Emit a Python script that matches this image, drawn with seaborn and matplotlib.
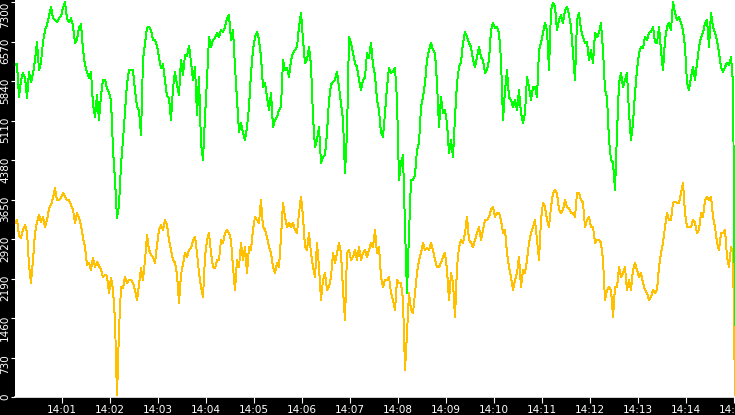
import numpy as np
import pandas as pd
import matplotlib
matplotlib.use("Agg")
import matplotlib.pyplot as plt
import matplotlib.dates as mdates
import matplotlib.transforms as mtransforms
import seaborn as sns

# ---- data (sampled every 2.5 s from 14:00:01.5) ----
start_time = "2024-01-01 14:00:01.5"
sample_step = "2500ms"

green_values = [
    6140, 6150, 5540, 5860, 5990, 5900, 5530, 6010, 5820, 5970,
    6230, 6560, 6040, 6190, 6560, 6780, 6880, 7040, 7210, 7000,
    6970, 6930, 7000, 7040, 7190, 7300, 7000, 6930, 7000, 6860,
    6540, 6600, 6820, 6890, 6410, 6140, 6010, 5900, 6010, 5400,
    5180, 5580, 5120, 5580, 5860, 5860, 5710, 5620, 5490, 4570,
    4010, 3310, 3550, 4290, 4750, 5270, 5790, 6040, 6040, 6040,
    5670, 5360, 5300, 4840, 6230, 6540, 6820, 6840, 6780, 6600,
    6600, 6490, 6270, 6080, 6150, 5860, 5560, 5530, 5120, 5710,
    6010, 5770, 5580, 6230, 5950, 6320, 6300, 6490, 6190, 5860,
    # 14:03:46 -
    6100, 5210, 5910, 4690, 4380, 5180, 5860, 6650, 6470, 6600,
    6630, 6730, 6650, 6780, 6750, 6840, 7000, 7060, 6600, 6780,
    6100, 5490, 4900, 5060, 4880, 4750, 4990, 5360, 5990, 6410,
    6650, 6750, 6600, 6280, 5730, 5800, 5540, 5300, 5620, 4990,
    5120, 5180, 5300, 5360, 6230, 6040, 6080, 5910, 6230, 6360,
    6410, 6470, 6840, 7100, 6600, 6170, 6230, 6470, 6140, 5180,
    4620, 4750, 4990, 4330, 4440, 4470, 4880, 5490, 5770, 5820,
    5860, 6010, 5730, 5430, 5120, 4140, 4880, 6650, 6540, 6360,
    6170, 6100, 5860, 5670, 5860, 5910, 6360, 6270, 6540, 6140,
    # 14:07:31 -
    5950, 5490, 5300, 4880, 4810, 5250, 5730, 6080, 5990, 6010,
    6080, 5490, 4010, 4330, 4470, 3140, 1920, 3030, 4010, 4010,
    4100, 4570, 4690, 5360, 5540, 5800, 6230, 6410, 6540, 6410,
    6360, 5800, 4990, 5540, 5250, 5300, 5060, 4510, 4750, 4440,
    5180, 5800, 6100, 6190, 6540, 6750, 6650, 6540, 6470, 6230,
    6100, 6280, 6470, 6280, 6230, 5990, 6040, 6230, 6780, 6910,
    6820, 6840, 6730, 6230, 5120, 5670, 6040, 5540, 5490, 5360,
    5490, 5300, 5670, 5250, 5060, 5250, 5910, 5730, 5490, 5730,
    5730, 5540, 6410, 6540, 6730, 6910, 6780, 6040, 7150, 7280,
    # 14:11:16 -
    7210, 6780, 6970, 7060, 6910, 7150, 7210, 7060, 6840, 6360,
    5860, 6970, 7100, 6780, 6650, 6540, 6560, 6230, 6410, 6170,
    6730, 6650, 6730, 6910, 6410, 5670, 5540, 4750, 4380, 4330,
    3830, 4880, 5800, 5990, 5730, 5860, 5990, 5250, 4750, 5060,
    5620, 6040, 6360, 6470, 6450, 6650, 6600, 6730, 6750, 6840,
    6560, 6540, 6840, 6410, 6040, 6600, 6840, 6910, 6780, 7300,
    7100, 6970, 7020, 6910, 6780, 6470, 5800, 5670, 5910, 6100,
    5860, 6170, 6470, 6650, 6730, 6910, 6970, 6470, 7100, 6840,
    6730, 6600, 6360, 6100, 6010, 6100, 6170, 6140, 6280, 5800,
    1330,
]

orange_values = [
    3220, 3270, 2990, 2940, 3090, 3180, 3050, 2440, 2110, 2530,
    3030, 3230, 3360, 3230, 3330, 3140, 3270, 3480, 3550, 3680,
    3860, 3640, 3640, 3680, 3770, 3700, 3640, 3640, 3550, 3460,
    3220, 3400, 3310, 3180, 2940, 2770, 2440, 2480, 2350, 2570,
    2400, 2500, 2420, 2350, 2220, 2260, 2240, 1920, 2200, 1980,
    1420, 0, 1240, 2030, 2010, 2220, 2110, 2160, 2160, 2110,
    1980, 1790, 2070, 2380, 2160, 2530, 2990, 2720, 2630, 2590,
    2480, 2810, 3090, 3180, 3090, 3270, 3180, 2900, 2720, 2530,
    2480, 2260, 1740, 2260, 2460, 2660, 2590, 2720, 2750, 2900,
    # 14:03:46 -
    2960, 2660, 2290, 2030, 1850, 2590, 2900, 3030, 2660, 2400,
    2380, 2530, 2530, 2900, 2850, 3030, 3090, 3030, 2900, 2400,
    1980, 2530, 2400, 2850, 2530, 2770, 2290, 2770, 2720, 3090,
    3330, 3270, 3220, 3640, 3140, 3090, 2960, 2770, 2660, 2400,
    2290, 2480, 2400, 2960, 3590, 3330, 3140, 3220, 3140, 3220,
    3090, 3030, 3400, 3700, 3330, 2770, 2720, 3030, 2660, 2400,
    2220, 2850, 2400, 1790, 2160, 2290, 1980, 2030, 2220, 2660,
    2480, 2660, 2850, 2660, 1980, 1420, 2660, 2720, 2530, 2590,
    2720, 2530, 2770, 2530, 2660, 2720, 2590, 2720, 2850, 2770,
    # 14:07:31 -
    3090, 2660, 2770, 2220, 2030, 2160, 2160, 2220, 1920, 1790,
    1610, 2160, 2110, 2110, 1790, 500, 1180, 1920, 1610, 1550,
    1920, 2290, 2530, 2660, 2850, 2720, 2750, 2720, 2850, 2720,
    2530, 2400, 2400, 2480, 2590, 2660, 2350, 1790, 2290, 2110,
    1480, 2400, 2770, 2900, 2850, 3030, 3330, 2900, 2850, 2770,
    2900, 3030, 3140, 2900, 3090, 3270, 3270, 3330, 3460, 3510,
    3330, 3400, 3400, 3270, 3030, 3090, 2660, 2400, 2220, 1980,
    2160, 2290, 2590, 2030, 2350, 2290, 2530, 2850, 3030, 3140,
    3270, 2900, 2530, 3270, 3590, 3510, 3270, 3140, 3510, 3770,
    # 14:11:16 -
    3830, 3770, 3460, 3400, 3460, 3640, 3510, 3490, 3400, 3400,
    3330, 3770, 3770, 3640, 3590, 3140, 3270, 3330, 3140, 3140,
    2850, 2900, 2900, 2850, 2530, 1790, 1980, 2030, 1980, 1480,
    2030, 2030, 2400, 2220, 2290, 2400, 1980, 2160, 1980, 2350,
    2480, 2350, 2220, 2290, 2110, 1980, 1920, 1790, 1850, 1980,
    1920, 1980, 2400, 2660, 2850, 3140, 3400, 3270, 3270, 3590,
    3600, 3590, 3590, 3770, 3960, 3400, 3140, 3140, 3140, 3270,
    3220, 3030, 3090, 3400, 3330, 3640, 3700, 3640, 3700, 3330,
    3140, 2850, 2720, 3030, 3030, 3090, 2590, 2400, 2770, 2660,
    0,
]

y_ticks = [0, 730, 1460, 2190, 2920, 3650, 4380, 5110, 5840, 6570, 7300]

times = pd.date_range(start_time, periods=len(green_values), freq=sample_step)
df = pd.concat([
    pd.DataFrame({"time": times, "value": orange_values, "series": "orange"}),
    pd.DataFrame({"time": times, "value": green_values, "series": "green"}),
], ignore_index=True)

# ---- figure ----
W, H = 735, 415
fig = plt.figure(figsize=(W / 100, H / 100), dpi=100, facecolor="black")
ax = fig.add_axes([15 / W, 18 / H, 720 / W, 397 / H])
ax.set_facecolor("white")

sns.lineplot(data=df, x="time", y="value", hue="series",
             hue_order=["orange", "green"],
             palette={"orange": "#ffc000", "green": "#00ff00"},
             estimator=None, sort=False, linewidth=0.7, legend=False, ax=ax)
for ln in ax.get_lines():
    ln.set_antialiased(False)

ax.set_xlim(times[0], times[-1])
ax.set_ylim(0, 7337)
ax.set_yticks(y_ticks)
ax.set_yticklabels([str(v) for v in y_ticks])
ax.xaxis.set_major_locator(mdates.MinuteLocator())
ax.xaxis.set_major_formatter(mdates.DateFormatter("%H:%M"))
ax.set_xlabel("")
ax.set_ylabel("")

for s in ["top", "right", "left"]:
    ax.spines[s].set_visible(False)
ax.spines["bottom"].set_color("white")
ax.spines["bottom"].set_linewidth(1.2)

ax.tick_params(axis="x", colors="white", labelsize=7.5, length=4, width=0.8, pad=1.5)
ax.tick_params(axis="y", colors="white", labelsize=7.5, length=3, width=0.8, pad=0.5,
               labelrotation=90)
ax.grid(False)

# y labels: text end sits just above its tick (top one kept inside the figure)
for v, lbl in zip(y_ticks, ax.get_yticklabels()):
    lbl.set_va("top")
    dy = 0.0 if v == y_ticks[-1] else 3.5
    lbl.set_transform(lbl.get_transform() +
                      mtransforms.ScaledTranslation(0, dy / 100, fig.dpi_scale_trans))

fig.savefig("out.png", dpi=100, facecolor="black")
